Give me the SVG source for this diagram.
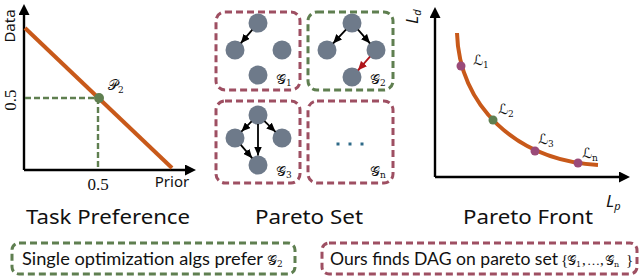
<svg xmlns="http://www.w3.org/2000/svg" width="640" height="278" viewBox="0 0 640 278">
<defs>
<style>
.ax{stroke:#000;stroke-width:2.4;fill:none}
.title{font-family:"Noto Sans","Open Sans",sans-serif;font-size:20px;fill:#111;text-anchor:middle}
.sans{font-family:"Noto Sans","Liberation Sans",sans-serif;fill:#111}
.cap{font-family:Lato,"Liberation Sans",sans-serif;fill:#111}
.serif{font-family:"Liberation Serif","Times New Roman",serif;fill:#111}
.math{font-family:"DejaVu Serif","DejaVu Sans",serif;fill:#111;font-style:normal}
.red{fill:none;stroke:#9E4F62;stroke-width:3;stroke-dasharray:7 4}
.grn{fill:none;stroke:#5F7F50;stroke-width:3;stroke-dasharray:7 4}
.node{fill:#6E7A8A}
.edge{stroke:#000;stroke-width:1.8;fill:none;marker-end:url(#ah)}
.edgeR{stroke:#B0151B;stroke-width:1.8;fill:none;marker-end:url(#ahr)}
.orange{stroke:#C8591A;stroke-width:4;fill:none}
</style>
<marker id="ah" markerUnits="userSpaceOnUse" markerWidth="9" markerHeight="8" refX="9" refY="4" orient="auto"><path d="M0,0 L9,4 L0,8 z" fill="#000"/></marker>
<marker id="ahr" markerUnits="userSpaceOnUse" markerWidth="9" markerHeight="8" refX="9" refY="4" orient="auto"><path d="M0,0 L9,4 L0,8 z" fill="#B0151B"/></marker>
<marker id="axh" markerUnits="userSpaceOnUse" markerWidth="11" markerHeight="11" refX="2" refY="5.5" orient="auto"><path d="M0,0 L11,5.5 L0,11 z" fill="#000"/></marker>
</defs>

<!-- Task preference panel -->
<g id="task-preference">
<line class="ax" x1="24" y1="170" x2="24" y2="13" marker-end="url(#axh)"/>
<line class="ax" x1="24" y1="170" x2="187" y2="170" marker-end="url(#axh)"/>
<line class="orange" x1="25" y1="28" x2="172" y2="168"/>
<line x1="25" y1="98" x2="99" y2="98" stroke="#5F7F50" stroke-width="2.4" stroke-dasharray="6 3"/>
<line x1="98" y1="98" x2="98" y2="169" stroke="#5F7F50" stroke-width="2.4" stroke-dasharray="6 3"/>
<circle cx="99" cy="98" r="5" fill="#5F7F50"/>
<text class="math" x="108" y="90" font-size="14">𝒫<tspan font-size="9" dy="3">2</tspan></text>
<text class="sans" x="15" y="26" font-size="15" text-anchor="middle" transform="rotate(-90 15 26)">Data</text>
<text class="serif" x="16" y="100" font-size="17" text-anchor="middle" transform="rotate(-90 16 100)">0.5</text>
<text class="serif" x="98" y="190" font-size="17" text-anchor="middle">0.5</text>
<text class="sans" x="172" y="187" font-size="15" text-anchor="middle">Prior</text>
<text class="title" x="108" y="224" textLength="164" lengthAdjust="spacingAndGlyphs">Task Preference</text>
</g>

<!-- Pareto set panel -->
<g id="graph-G1">
<rect class="red" x="216" y="12" width="84" height="78" rx="9"/>
<circle class="node" cx="258" cy="23" r="9.5"/>
<circle class="node" cx="235" cy="50" r="9.5"/>
<circle class="node" cx="282" cy="50" r="9.5"/>
<circle class="node" cx="258" cy="75" r="9.5"/>
<text class="math" x="276" y="84" font-size="14">𝒢<tspan font-size="9" dy="2">1</tspan></text>
</g>
<g id="graph-G2">
<rect class="grn" x="308" y="12" width="85" height="78" rx="9"/>
<circle class="node" cx="352" cy="23" r="9.5"/>
<circle class="node" cx="327" cy="50" r="9.5"/>
<circle class="node" cx="376" cy="50" r="9.5"/>
<circle class="node" cx="352" cy="77" r="9.5"/>
<text class="math" x="370" y="84" font-size="14">𝒢<tspan font-size="9" dy="2">2</tspan></text>
</g>
<g id="graph-G3">
<rect class="red" x="216" y="101" width="84" height="82" rx="9"/>
<circle class="node" cx="258" cy="115" r="9.5"/>
<circle class="node" cx="235" cy="138" r="9.5"/>
<circle class="node" cx="282" cy="138" r="9.5"/>
<circle class="node" cx="258" cy="165" r="9.5"/>
<text class="math" x="276" y="176" font-size="14">𝒢<tspan font-size="9" dy="2">3</tspan></text>
</g>
<g id="graph-Gn">
<rect class="red" x="308" y="101" width="85" height="82" rx="9"/>
<rect x="336.5" y="142.5" width="3" height="3" fill="#2E6A88"/>
<rect x="348.5" y="142.5" width="3" height="3" fill="#2E6A88"/>
<rect x="360.5" y="142.5" width="3" height="3" fill="#2E6A88"/>
<text class="math" x="370" y="176" font-size="14">𝒢<tspan font-size="9" dy="2">n</tspan></text>
</g>
<g id="connectors">
<line class="edge" x1="252.2" y1="29.8" x2="240.8" y2="43.2"/>
<line class="edge" x1="345.9" y1="29.6" x2="333.1" y2="43.4"/>
<line class="edge" x1="358" y1="29.7" x2="370" y2="43.3"/>
<line class="edgeR" x1="370" y1="56.7" x2="358" y2="70.3"/>
<line class="edge" x1="251.6" y1="121.4" x2="241.4" y2="131.6"/>
<line class="edge" x1="264.5" y1="121.2" x2="275.5" y2="131.8"/>
<line class="edge" x1="258" y1="124" x2="258" y2="155.5"/>
<line class="edge" x1="240.8" y1="144.8" x2="252.2" y2="158.2"/>
</g>
<text class="title" x="309" y="224" textLength="108" lengthAdjust="spacingAndGlyphs">Pareto Set</text>

<!-- Pareto front panel -->
<g id="pareto-front">
<line class="ax" x1="435" y1="177" x2="435" y2="16" marker-end="url(#axh)"/>
<line class="ax" x1="435" y1="177" x2="621" y2="177" marker-end="url(#axh)"/>
<path class="orange" d="M457,33 C459,105 515,160 598,165"/>
<circle cx="461" cy="66" r="4.5" fill="#9A4A78"/>
<circle cx="493" cy="120" r="4.5" fill="#5F7F50"/>
<circle cx="535" cy="151" r="4.5" fill="#9A4A78"/>
<circle cx="578" cy="163" r="4.5" fill="#9A4A78"/>
<text class="math" x="473" y="65" font-size="14">ℒ<tspan font-size="9" dy="3">1</tspan></text>
<text class="math" x="498" y="114" font-size="14">ℒ<tspan font-size="9" dy="3">2</tspan></text>
<text class="math" x="538" y="144" font-size="14">ℒ<tspan font-size="9" dy="3">3</tspan></text>
<text class="math" x="582" y="158" font-size="14">ℒ<tspan font-size="9" dy="3">n</tspan></text>
<text class="sans" x="418" y="24" font-size="17" font-style="italic" transform="rotate(-90 418 24)">L<tspan font-size="11" dy="3">d</tspan></text>
<text class="sans" x="606" y="207" font-size="17" font-style="italic">L<tspan font-size="11" dy="3">p</tspan></text>
<text class="title" x="528" y="224" textLength="130" lengthAdjust="spacingAndGlyphs">Pareto Front</text>
</g>

<!-- Bottom captions -->
<g id="caption-single">
<rect class="grn" x="12" y="243" width="283" height="31" rx="7"/>
<text class="cap" x="22" y="265" font-size="17" textLength="241" lengthAdjust="spacingAndGlyphs">Single optimization algs prefer</text>
<text class="math" x="267" y="265" font-size="14">𝒢<tspan font-size="9" dy="2">2</tspan></text>
</g>
<g id="caption-ours">
<rect class="red" x="322" y="243" width="315" height="31" rx="7"/>
<text class="cap" x="330" y="265" font-size="17" textLength="228" lengthAdjust="spacingAndGlyphs">Ours finds DAG on pareto set</text>
<text class="serif" x="561" y="265" font-size="15">{</text>
<text class="math" x="567" y="265" font-size="13">𝒢<tspan font-size="8" dy="2">1</tspan></text>
<text class="serif" x="582" y="265" font-size="15">,</text>
<text class="serif" x="587" y="265" font-size="13">…</text>
<text class="serif" x="600" y="265" font-size="15">,</text>
<text class="math" x="605" y="265" font-size="13">𝒢<tspan font-size="8" dy="2">n</tspan></text>
<text class="serif" x="626" y="265" font-size="15">}</text>
</g>
</svg>
